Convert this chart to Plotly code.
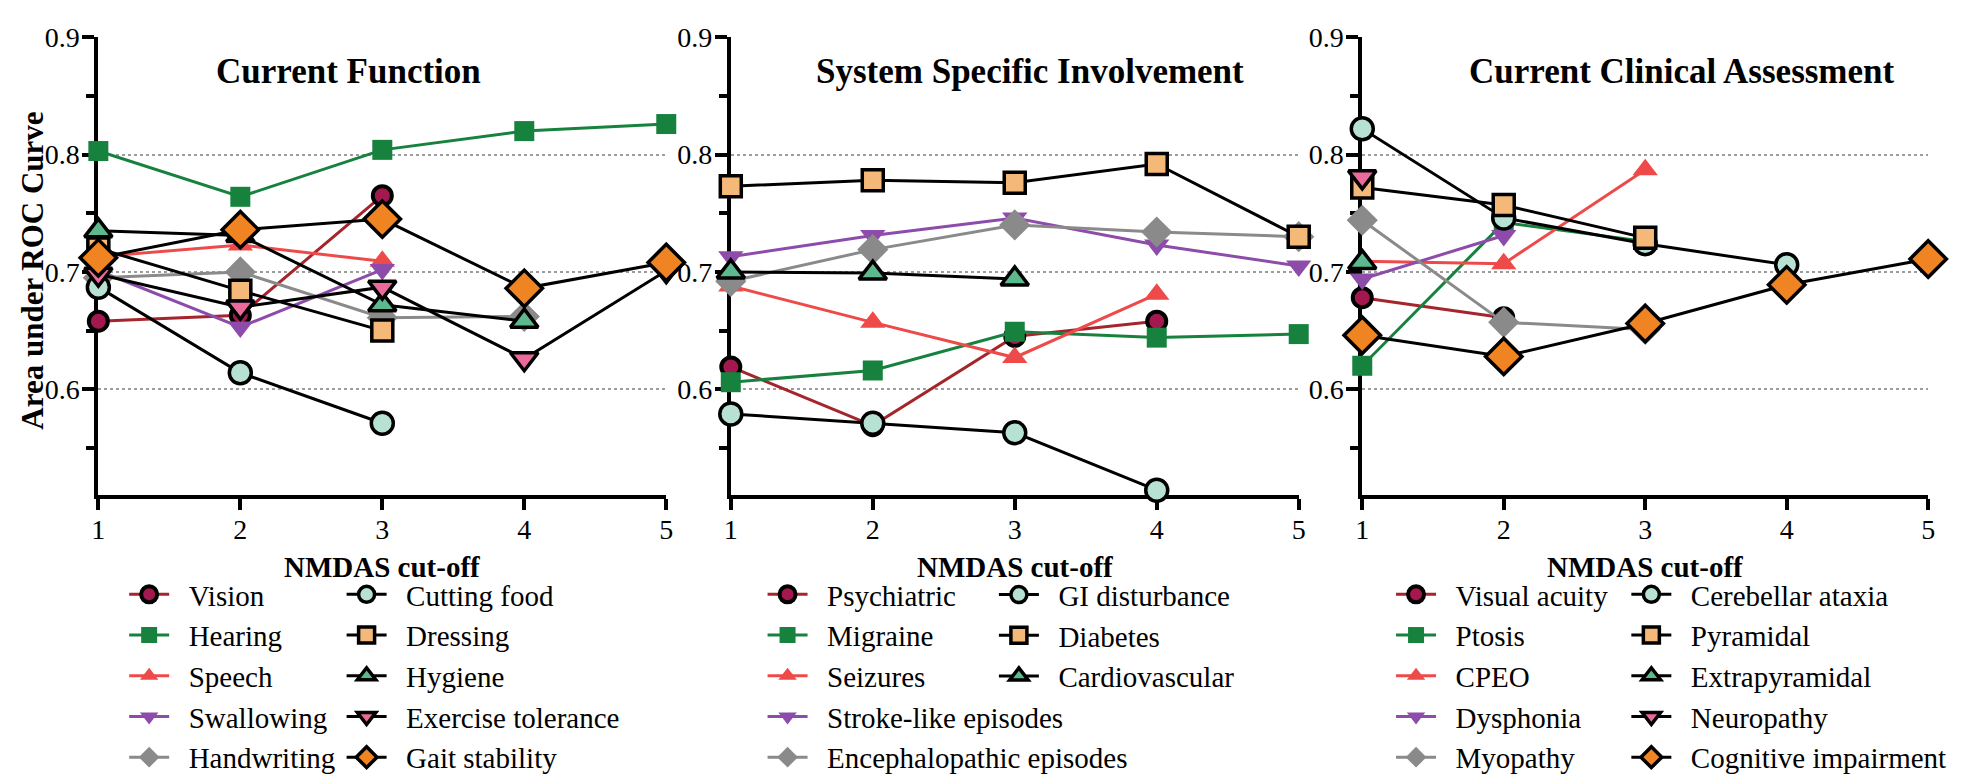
import plotly.graph_objects as go

cutoffs = [1, 2, 3, 4, 5]

# --- Current Function ---
vision = [0.658, 0.663, 0.765]
hearing = [0.803, 0.764, 0.804, 0.820, 0.826]
speech = [0.713, 0.723, 0.709]
swallowing = [0.701, 0.653, 0.702]
handwriting = [0.695, 0.700, 0.661, 0.662]
cutting_food = [0.687, 0.614, 0.571]
dressing = [0.720, 0.684, 0.650]
hygiene = [0.735, 0.731, 0.672, 0.658]
exercise_tolerance = [0.698, 0.670, 0.687, 0.626, 0.701]
gait_stability = [0.712, 0.736, 0.745, 0.686, 0.708]

# --- System Specific Involvement ---
psychiatric = [0.619, 0.569, 0.645, 0.658]
migraine = [0.606, 0.616, 0.649, 0.644, 0.647]
seizures = [0.688, 0.657, 0.627, 0.681]
stroke_like = [0.713, 0.731, 0.746, 0.723, 0.705]
encephalopathic = [0.692, 0.719, 0.740, 0.734, 0.730]
gi_disturbance = [0.579, 0.571, 0.563, 0.514]
diabetes = [0.773, 0.778, 0.776, 0.792, 0.730]
cardiovascular = [0.700, 0.699, 0.694]

# --- Current Clinical Assessment ---
visual_acuity = [0.678, 0.661]
ptosis = [0.620, 0.742, 0.726]
cpeo = [0.709, 0.707, 0.787]
dysphonia = [0.694, 0.731]
myopathy = [0.744, 0.657, 0.651]
cerebellar_ataxia = [0.822, 0.746, 0.724, 0.706]
pyramidal = [0.772, 0.757, 0.729]
extrapyramidal = [0.708]
neuropathy = [0.781]
cognitive_impairment = [0.646, 0.628, 0.656, 0.689, 0.711]

y_ticks = [0.6, 0.7, 0.8, 0.9]
y_tick_labels = ["0.6", "0.7", "0.8", "0.9"]

panel_titles = ["Current Function", "System Specific Involvement",
                "Current Clinical Assessment"]
x_title = "NMDAS cut-off"
y_title = "Area under ROC Curve"

# style slots shared by the three panels (position in each panel's list)
STYLES = [
    dict(symbol="circle", size=19, fill="#A3184F", line="#A4262C", ow=4, oc="black", lw=3),
    dict(symbol="square", size=20, fill="#17823E", line="#17823E", ow=0, oc="#17823E", lw=3),
    dict(symbol="triangle-up", size=22, fill="#EE4A4A", line="#EE4A4A", ow=0, oc="#EE4A4A", lw=3),
    dict(symbol="triangle-down", size=22, fill="#8D4BAA", line="#8D4BAA", ow=0, oc="#8D4BAA", lw=3),
    dict(symbol="diamond", size=24, fill="#8A8A8A", line="#8A8A8A", ow=0, oc="#8A8A8A", lw=3),
    dict(symbol="circle", size=22, fill="#B7E2D3", line="black", ow=3.5, oc="black", lw=3),
    dict(symbol="square", size=21, fill="#F4B878", line="black", ow=3.5, oc="black", lw=3),
    dict(symbol="triangle-up", size=24, fill="#5BB98D", line="black", ow=3.5, oc="black", lw=3),
    dict(symbol="triangle-down", size=24, fill="#EA6A9C", line="black", ow=3.5, oc="black", lw=3),
    dict(symbol="diamond", size=28, fill="#F08423", line="black", ow=3.5, oc="black", lw=3),
]

panels = [
    [("Vision", vision), ("Hearing", hearing), ("Speech", speech),
     ("Swallowing", swallowing), ("Handwriting", handwriting),
     ("Cutting food", cutting_food), ("Dressing", dressing),
     ("Hygiene", hygiene), ("Exercise tolerance", exercise_tolerance),
     ("Gait stability", gait_stability)],
    [("Psychiatric", psychiatric), ("Migraine", migraine),
     ("Seizures", seizures), ("Stroke-like episodes", stroke_like),
     ("Encephalopathic episodes", encephalopathic),
     ("GI disturbance", gi_disturbance), ("Diabetes", diabetes),
     ("Cardiovascular", cardiovascular), None, None],
    [("Visual acuity", visual_acuity), ("Ptosis", ptosis), ("CPEO", cpeo),
     ("Dysphonia", dysphonia), ("Myopathy", myopathy),
     ("Cerebellar ataxia", cerebellar_ataxia), ("Pyramidal", pyramidal),
     ("Extrapyramidal", extrapyramidal), ("Neuropathy", neuropathy),
     ("Cognitive impairment", cognitive_impairment)],
]

W, H = 1961, 783
FONT = "Liberation Serif, Times New Roman, serif"

# pixel layout of the three plotting areas
x_px = [(92, 664), (729, 1301), (1365, 1935)]
y_top_px, y_bot_px = 23, 497
# legend columns: left edge of each column (px)
legend_cols_px = [(118, 337), (761, 994), (1394, 1631)]
legend_top_px = 574

fig = go.Figure()

for p, series in enumerate(panels):
    ax = "" if p == 0 else str(p + 1)
    for i, item in enumerate(series):
        if item is None:
            continue
        name, vals = item
        st = STYLES[i]
        col = 0 if i < 5 else 1
        leg_id = 2 * p + col + 1
        legend_name = "legend" if leg_id == 1 else f"legend{leg_id}"
        fig.add_trace(go.Scatter(
            x=cutoffs[:len(vals)], y=vals,
            mode="lines+markers",
            name="\u2002" + name,
            legend=legend_name,
            xaxis="x" + ax, yaxis="y" + ax,
            line=dict(color=st["line"], width=st["lw"]),
            marker=dict(symbol=st["symbol"], size=st["size"], color=st["fill"],
                        line=dict(color=st["oc"], width=st["ow"])),
            cliponaxis=False,
        ))

layout = dict(
    width=W, height=H,
    margin=dict(l=0, r=0, t=0, b=0),
    paper_bgcolor="white", plot_bgcolor="white",
    font=dict(family=FONT, color="black", size=28),
    showlegend=True,
)

for p in range(3):
    ax = "" if p == 0 else str(p + 1)
    x0, x1 = x_px[p]
    layout["xaxis" + ax] = dict(
        domain=[x0 / W, x1 / W], range=[1, 5], anchor="y" + ax,
        tickmode="array", tickvals=cutoffs, ticktext=[str(c) for c in cutoffs],
        ticks="outside", ticklen=11, tickwidth=3.5, tickcolor="black",
        showline=True, linewidth=4, linecolor="black",
        showgrid=False, zeroline=False, layer="below traces",
        ticklabelstandoff=-4,
        tickfont=dict(family=FONT, size=28, color="black"),
        fixedrange=True,
    )
    layout["yaxis" + ax] = dict(
        domain=[1 - y_bot_px / H, 1 - y_top_px / H], range=[0.51, 0.9],
        anchor="x" + ax,
        tickmode="array", tickvals=y_ticks, ticktext=y_tick_labels,
        ticks="outside", ticklen=12, tickwidth=3.5, tickcolor="black",
        minor=dict(tickmode="linear", tick0=0.55, dtick=0.1, ticks="outside",
                   ticklen=8, tickwidth=3.5, tickcolor="black", showgrid=False),
        showline=True, linewidth=4, linecolor="black",
        showgrid=True, gridcolor="#9C9C9C", gridwidth=1.5, griddash="dot",
        zeroline=False, layer="below traces",
        ticklabelstandoff=-3,
        tickfont=dict(family=FONT, size=28, color="black"),
        fixedrange=True,
    )

# legends: two vertical columns per panel
for p in range(3):
    for col in range(2):
        leg_id = 2 * p + col + 1
        key = "legend" if leg_id == 1 else f"legend{leg_id}"
        layout[key] = dict(
            x=legend_cols_px[p][col] / W, y=1 - legend_top_px / H,
            xanchor="left", yanchor="top",
            orientation="v", bgcolor="rgba(0,0,0,0)", borderwidth=0,
            itemwidth=40, tracegroupgap=0,
            font=dict(family=FONT, size=29, color="black"),
            itemclick=False, itemdoubleclick=False,
        )

annotations = []
title_centers_px = [344, 1030, 1687]
for p in range(3):
    x0, x1 = x_px[p]
    annotations.append(dict(
        text=f"<b>{panel_titles[p]}</b>", xref="paper", yref="paper",
        x=title_centers_px[p] / W, y=1 - 58 / H, xanchor="center", yanchor="middle",
        showarrow=False, font=dict(family=FONT, size=35, color="black"),
    ))
    annotations.append(dict(
        text=f"<b>{x_title}</b>", xref="paper", yref="paper",
        x=(x0 + x1) / 2 / W, y=1 - 572 / H, xanchor="center", yanchor="middle",
        showarrow=False, font=dict(family=FONT, size=29, color="black"),
    ))
annotations.append(dict(
    text=f"<b>{y_title}</b>", xref="paper", yref="paper",
    x=26 / W, y=1 - 265 / H, xanchor="center", yanchor="middle",
    textangle=-90, showarrow=False,
    font=dict(family=FONT, size=31, color="black"),
))
layout["annotations"] = annotations

fig.update_layout(**layout)
fig.write_html("out.html", config={"displayModeBar": False})
